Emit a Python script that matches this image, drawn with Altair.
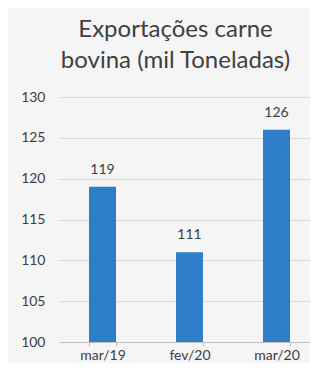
import altair as alt
import pandas as pd

categories = ["mar/19", "fev/20", "mar/20"]
values = [119, 111, 126]
y_ticks = [100, 105, 110, 115, 120, 125, 130]

df = pd.DataFrame({"mes": categories, "valor": values})

FONT = "Lato"
TXT = "#404040"
BAR = "#2e7dc8"

base = alt.Chart(df).encode(
    x=alt.X("mes:N", sort=categories, title=None,
            scale=alt.Scale(paddingInner=0.69, paddingOuter=0.345, range=[0, 261]),
            axis=alt.Axis(labelAngle=0, labelFont=FONT, labelFontSize=14, labelColor=TXT,
                          labelPadding=2, domainColor="#bfbfbf", tickColor="#bfbfbf",
                          tickSize=4, tickBand="extent", grid=False)),
)

bars = base.mark_bar(color=BAR).encode(
    y=alt.Y("valor:Q", title=None,
            scale=alt.Scale(domain=[100, 130], nice=False, zero=False),
            axis=alt.Axis(values=y_ticks, labelFont=FONT, labelFontSize=14, labelColor=TXT,
                          labelPadding=14, domain=False, ticks=False,
                          gridColor="#d9d9d9", gridWidth=1)),
    y2=alt.datum(100),
)

labels = base.mark_text(font=FONT, fontSize=14, color=TXT, baseline="alphabetic", dy=-13).encode(
    y=alt.Y("valor:Q"),
    text=alt.Text("valor:Q"),
)

chart = (bars + labels).properties(
    width=251, height=245,
    background="#f5f5f5",
    autosize=alt.AutoSizeParams(type="none"),
    padding={"left": 51, "top": 89, "right": 0, "bottom": 21},
    title=alt.TitleParams(["Exportações carne", "bovina (mil Toneladas)"],
                          font=FONT, fontSize=24, fontWeight="normal", color=TXT,
                          anchor="middle", dx=-9, offset=17, lineHeight=31),
).configure_view(stroke=None)

chart.save("out.html", embed_options={"renderer": "svg", "actions": False})
